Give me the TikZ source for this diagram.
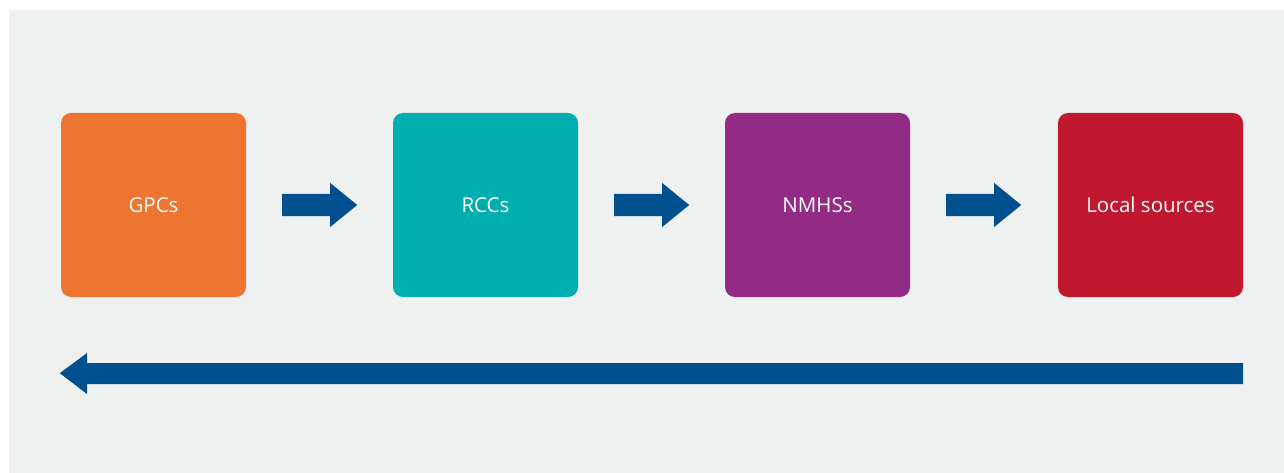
\documentclass[tikz,border=0pt]{standalone}
\usepackage{fontspec}
\setmainfont{Open Sans}
\usetikzlibrary{calc}
\definecolor{bggray}{HTML}{EFF1F1}
\definecolor{gpcorange}{HTML}{ED7530}
\definecolor{rccteal}{HTML}{00AEAF}
\definecolor{nmhspurple}{HTML}{932A86}
\definecolor{localred}{HTML}{C1172F}
\definecolor{arrowblue}{HTML}{004F8F}
\begin{document}
\begin{tikzpicture}[x=1pt,y=-1pt,
  box/.style={minimum width=185pt,minimum height=184pt,rounded corners=10pt,inner sep=0pt,
    text=white,font=\fontsize{20.5}{23}\selectfont},
  blockarrow/.style={fill=arrowblue,draw=none}]
\useasboundingbox (0,0) rectangle (1284,473);
\fill[white] (0,0) rectangle (1284,473);
\fill[bggray] (9,10) rectangle (1284,473);
\node[box,fill=gpcorange] (gpc) at (153.5,205) {GPCs};
\node[box,fill=rccteal] (rcc) at (485.5,205) {RCCs};
\node[box,fill=nmhspurple] (nmhs) at (817.5,205) {NMHSs};
\node[box,fill=localred] (loc) at (1150.5,205) {Local sources};
% small arrows between boxes
\foreach \a in {gpc,rcc,nmhs}{
  \fill[blockarrow] ($(\a.east)+(36,-11)$) -- ($(\a.east)+(84,-11)$) -- ($(\a.east)+(84,-22)$)
    -- ($(\a.east)+(111,0)$) -- ($(\a.east)+(84,22)$) -- ($(\a.east)+(84,11)$)
    -- ($(\a.east)+(36,11)$) -- cycle;
}
% long return arrow
\coordinate (rs) at ($(loc.south east)+(0,66)$);
\coordinate (tip) at ($(gpc.south west)+(-1,76)$);
\fill[blockarrow] (rs|-0,363) -- (87,363) -- (87,353) -- (tip) -- (87,394) -- (87,384) -- (rs|-0,384) -- cycle;
\end{tikzpicture}
\end{document}
